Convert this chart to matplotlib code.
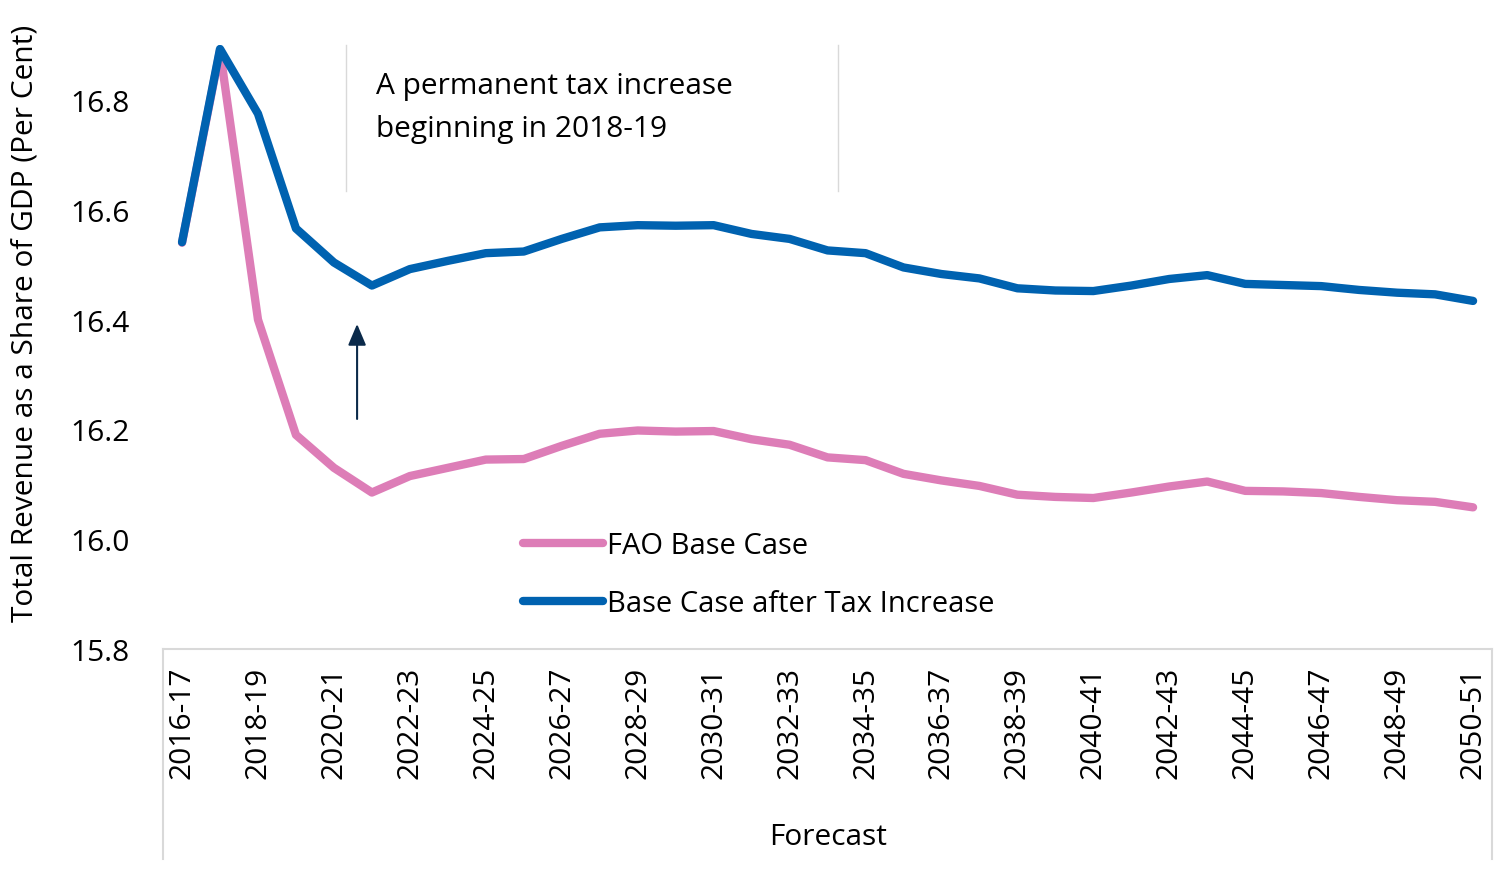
import matplotlib
matplotlib.use("Agg")
import matplotlib.pyplot as plt

plt.rcParams['font.family'] = ['Open Sans', 'DejaVu Sans']

# Fiscal years 2016-17 .. 2050-51
years = ["%d-%02d" % (y, (y + 1) % 100) for y in range(2016, 2051)]

# Total revenue as share of GDP (per cent)
base_case = [16.54, 16.89, 16.40, 16.19, 16.13, 16.085, 16.115, 16.13, 16.145, 16.146,
             16.17, 16.192, 16.198, 16.196, 16.197, 16.182, 16.172, 16.149, 16.144, 16.119,
             16.107, 16.097, 16.081, 16.077, 16.075, 16.085, 16.096, 16.105, 16.088, 16.087,
             16.084, 16.077, 16.071, 16.068, 16.058]
after_tax = [16.541, 16.893, 16.775, 16.566, 16.504, 16.462, 16.492, 16.507, 16.521, 16.524,
             16.547, 16.568, 16.572, 16.571, 16.572, 16.556, 16.547, 16.526, 16.521, 16.495,
             16.483, 16.475, 16.457, 16.453, 16.452, 16.462, 16.474, 16.481, 16.465, 16.463,
             16.461, 16.454, 16.449, 16.446, 16.434]

pink = '#DD7DB7'
blue = '#0062B0'
grey = '#D9D9D9'
fs = 21.5

fig = plt.figure(figsize=(15, 8.7), dpi=100)
ax = fig.add_axes([0.1087, 0.2529, 0.886, 0.6941])

x = list(range(len(years)))
ax.plot(x, base_case, color=pink, lw=6, label='FAO Base Case', solid_capstyle='round')
ax.plot(x, after_tax, color=blue, lw=6, label='Base Case after Tax Increase', solid_capstyle='round')

ax.set_xlim(-0.5, len(years) - 0.5)
ax.set_ylim(15.8, 16.9)
ax.set_yticks([15.8, 16.0, 16.2, 16.4, 16.6, 16.8])
ax.set_yticklabels(['15.8', '16.0', '16.2', '16.4', '16.6', '16.8'])
ax.set_xticks(x[::2])
ax.set_xticklabels(years[::2], rotation=90)
ax.tick_params(axis='both', length=0, labelsize=fs, colors='black')
ax.tick_params(axis='y', pad=24)
ax.tick_params(axis='x', pad=12)

for s in ['top', 'right', 'left']:
    ax.spines[s].set_visible(False)
ax.spines['bottom'].set_color(grey)
ax.spines['bottom'].set_linewidth(1.5)

# group box for the "Forecast" category level
fig.add_artist(plt.Line2D([163 / 1500, 163 / 1500], [1 - 650 / 870, 1 - 860 / 870], color=grey, lw=1.5))
fig.add_artist(plt.Line2D([1492 / 1500, 1492 / 1500], [1 - 650 / 870, 1 - 860 / 870], color=grey, lw=1.5))
fig.text(828 / 1500, 1 - 838 / 870, 'Forecast', fontsize=fs, ha='center', va='center')

fig.text(25 / 1500, 1 - 323 / 870, 'Total Revenue as a Share of GDP (Per Cent)',
         rotation=90, fontsize=fs, ha='center', va='center')

# annotation box (side borders only)
fig.add_artist(plt.Line2D([346 / 1500, 346 / 1500], [1 - 46 / 870, 1 - 192 / 870], color=grey, lw=1))
fig.add_artist(plt.Line2D([838 / 1500, 838 / 1500], [1 - 46 / 870, 1 - 192 / 870], color=grey, lw=1))
fig.text(376 / 1500, 1 - 108 / 870, 'A permanent tax increase\nbeginning in 2018-19',
         fontsize=fs, ha='left', va='center', linespacing=1.6)

ax.annotate('', xy=(4.61, 16.392), xytext=(4.61, 16.219),
            arrowprops=dict(arrowstyle='-|>,head_width=0.55,head_length=1.3',
                            color='#0B2A4A', lw=1.5, shrinkA=0, shrinkB=0))

ax.legend(loc='upper left', bbox_to_anchor=(0.262, 0.215), frameon=False, fontsize=fs - 0.5,
          handlelength=2.75, handletextpad=0.15, labelspacing=1.0, borderaxespad=0)

fig.savefig('out.png', dpi=100)
